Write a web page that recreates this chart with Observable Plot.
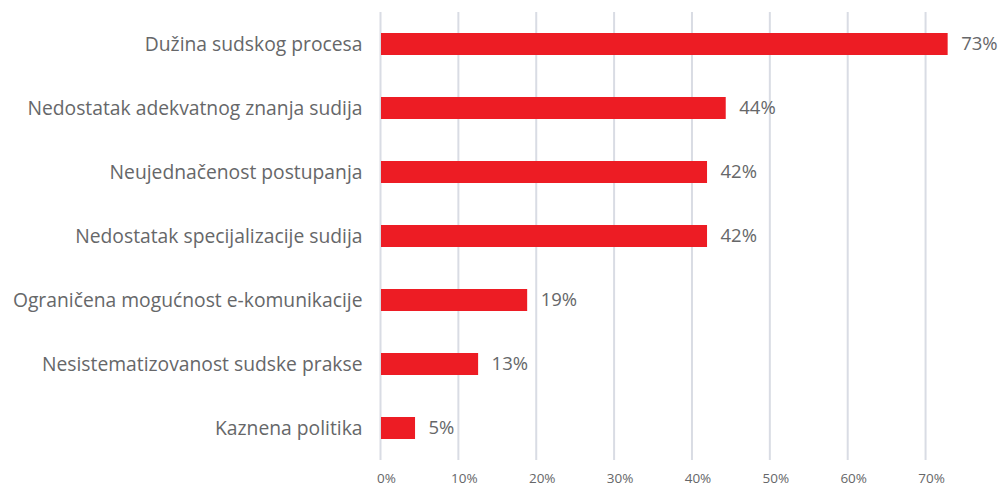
<!DOCTYPE html>
<html>
<head>
<meta charset="utf-8">
<script src="https://cdn.jsdelivr.net/npm/d3@7"></script>
<script src="https://cdn.jsdelivr.net/npm/@observablehq/plot@0.6"></script>
<style>
  html, body { margin: 0; padding: 0; background: #ffffff; }
  #chart { width: 1001px; height: 486px; }
</style>
</head>
<body>
<div id="chart"></div>
<script>
const categories = [
  "Dužina sudskog procesa",
  "Nedostatak adekvatnog znanja sudija",
  "Neujednačenost postupanja",
  "Nedostatak specijalizacije sudija",
  "Ograničena mogućnost e-komunikacije",
  "Nesistematizovanost sudske prakse",
  "Kaznena politika"
];
const values = [72.9, 44.4, 42.0, 42.0, 18.9, 12.6, 4.5];
const valueLabels = ["73%", "44%", "42%", "42%", "19%", "13%", "5%"];
const xTicks = [0, 10, 20, 30, 40, 50, 60, 70];

const data = categories.map((c, i) => ({category: c, value: values[i], label: valueLabels[i]}));

const textColor = "#666769";
const chart = Plot.plot({
  width: 1001,
  height: 486,
  marginLeft: 380,
  marginRight: 37,
  marginTop: 12,
  marginBottom: 26,
  style: {fontFamily: "'Open Sans', sans-serif", color: textColor, background: "#ffffff"},
  x: {domain: [0, 75], ticks: xTicks},
  y: {domain: categories, paddingInner: 0.656, paddingOuter: 0.328},
  marks: [
    Plot.gridX(xTicks, {stroke: "#d9dce4", strokeOpacity: 1, strokeWidth: 2}),
    Plot.barX(data, {x: "value", y: "category", fill: "#ed1c24", insetLeft: 1}),
    Plot.text(data, {x: "value", y: "category", text: "label", textAnchor: "start", dx: 13, fontSize: 18.5, fill: textColor}),
    Plot.axisY({tickSize: 0, tickPadding: 18, fontSize: 19.3, label: null}),
    Plot.axisX(xTicks, {tickSize: 0, tickPadding: 13, fontSize: 13.5, label: null, tickFormat: d => d + "%", dx: 6})
  ]
});
document.getElementById("chart").appendChild(chart);
</script>
</body>
</html>
